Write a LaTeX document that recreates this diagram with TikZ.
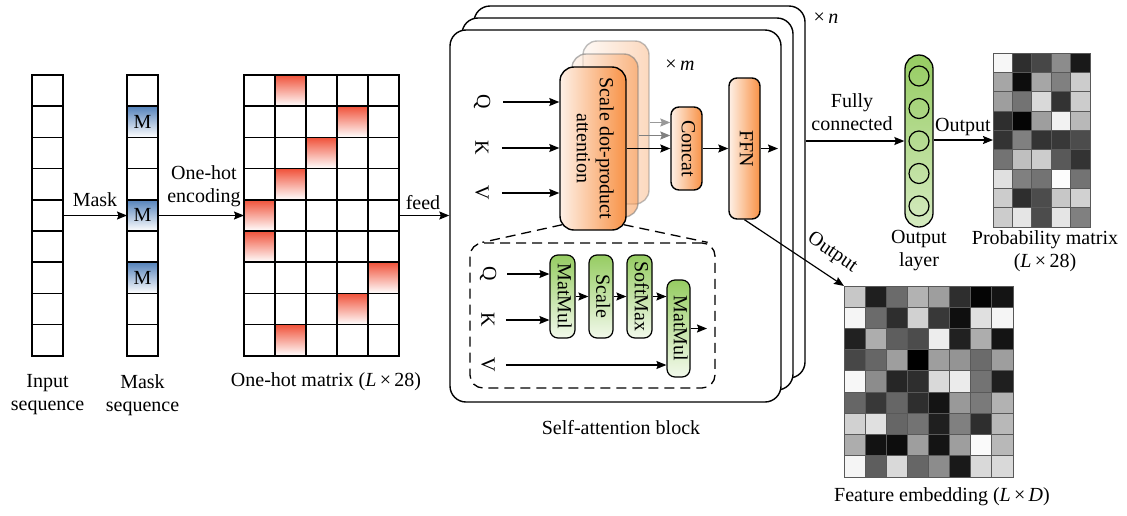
\documentclass[tikz,border=0pt]{standalone}
\usepackage{fontspec}
\setmainfont{Liberation Serif}
\usepackage{graphicx}
\usetikzlibrary{arrows.meta,positioning,calc}

\definecolor{maskblue}{RGB}{84,130,186}
\definecolor{hotred}{RGB}{240,82,58}
\definecolor{attnorange}{RGB}{248,146,70}
\definecolor{attnlight}{RGB}{254,240,230}
\definecolor{mmgreen}{RGB}{150,204,98}
\definecolor{mmlight}{RGB}{242,249,235}

\newcommand{\vtext}[1]{\rotatebox{-90}{\begin{tabular}{@{}c@{}}#1\end{tabular}}}

\tikzset{
  lbl/.style={font=\fontsize{20}{23}\selectfont, align=center, inner sep=1pt},
  arr/.style={line width=1.2, -{Stealth[length=10pt,width=8pt,inset=1.5pt]}},
  cellline/.style={line width=1.5},
  graycell/.style={draw=black!65, line width=0.8},
  holder/.style={inner sep=0pt, outer sep=0pt},
  blockbox/.style={draw, line width=1.4, rounded corners=16, fill=white, inner sep=0pt},
  attnbox/.style={draw, line width=1.4, rounded corners=14, left color=attnlight, right color=attnorange, lbl, inner sep=0pt},
  opbox/.style={draw, line width=1.2, rounded corners=8, top color=mmgreen, bottom color=mmlight, lbl, inner sep=0pt},
  dashbox/.style={draw, line width=1.3, dash pattern=on 10pt off 6pt, rounded corners=13, inner sep=0pt},
  neuron/.style={circle, draw, line width=1.2, minimum size=20, inner sep=0pt},
}

\begin{document}
\begin{tikzpicture}[x=1pt,y=-1pt]
\useasboundingbox (0,0) rectangle (1127,515);

% Input and mask sequences
\node[holder, minimum width=31, minimum height=281] (inseq) at (47.5,215.5) {};
\node[holder, minimum width=31, minimum height=281] (maskseq) at (142.5,215.5) {};
\foreach \i in {1,4,6}
  \shade[top color=maskblue, bottom color=white] (127,{75+\i*31.2}) rectangle +(31,31.2);
\foreach \i in {0,...,8} {
  \draw[cellline] (32,{75+\i*31.2}) rectangle +(31,31.2);
  \draw[cellline] (127,{75+\i*31.2}) rectangle +(31,31.2);
}
\foreach \i in {1,4,6}
  \node[lbl] (m\i) at (142.5,{75+(\i+0.5)*31.2}) {M};
\node[lbl] (inlbl) at (47.5,395) {Input\\sequence};
\node[lbl] (masklbl) at (142.5,395) {Mask\\sequence};

% One-hot matrix
\node[holder, minimum width=155, minimum height=281] (onehot) at (321.5,215.5) {};
\foreach \r/\c in {0/1,1/3,2/2,3/1,4/0,5/0,6/4,7/3,8/1}
  \shade[top color=hotred, bottom color=white] ({244+\c*31},{75+\r*31.2}) rectangle +(31,31.2);
\foreach \r in {0,...,8}
  \foreach \c in {0,...,4}
    \draw[cellline] ({244+\c*31},{75+\r*31.2}) rectangle +(31,31.2);
\node[lbl] (ohlbl) at (326,382) {One-hot matrix (\textit{L}\,×\,28)};

\draw[arr] (inseq.east) -- (maskseq.west);
\node[lbl] (masktxt) at (95,200) {Mask};
\draw[arr] (maskseq.east) -- (onehot.west);
\node[lbl] (enctxt) at (204,186) {One-hot\\encoding};

% Self-attention block (stacked n times)
\node[blockbox, minimum width=331, minimum height=372] (blk3) at (639.5,192) {};
\node[blockbox, minimum width=331, minimum height=372] (blk2) at (627.5,204) {};
\node[blockbox, minimum width=331, minimum height=372] (blk1) at (615.5,216) {};
\node[lbl] (ntimes) at (826,18) {×\,\textit{n}};
\node[lbl] (blklbl) at (621,428) {Self-attention block};

\draw[arr] (onehot.east) -- (onehot.east -| blk1.west);
\node[lbl] (feedtxt) at (423,203) {feed};

% multi-head attention
\node[attnbox, minimum width=66, minimum height=163, draw=gray, fill opacity=0.35, draw opacity=0.5] (att3) at (616,122.5) {};
\node[attnbox, minimum width=66, minimum height=163, draw=gray, fill opacity=0.55, draw opacity=0.6] (att2) at (605,135.5) {};
\node[attnbox, minimum width=66, minimum height=163] (att1) at (593,148.5) {\vtext{Scale dot-product\\attention}};
\node[lbl] (mtimes) at (680,65) {×\,\textit{m}};

\node[lbl, rotate=-90] (q1) at (482,102) {Q};
\node[lbl, rotate=-90] (k1) at (482,148) {K};
\node[lbl, rotate=-90] (v1) at (482,193) {V};
\foreach \t in {q1,k1,v1}
  \draw[arr] ([xshift=12pt]\t.north) -- (att1.west |- \t.north);

\node[attnbox, rounded corners=8, minimum width=31, minimum height=83] (concat) at (686.5,148.5) {\vtext{Concat}};
\node[attnbox, rounded corners=8, minimum width=31, minimum height=141] (ffn) at (744.5,148.5) {\vtext{FFN}};
\coordinate (ffnout) at (778,148.5);

\draw[arr, gray!80, line width=1.1] (att3.east) -- (concat.west |- att3.east);
\draw[arr, gray, line width=1.1] (att2.east) -- (concat.west |- att2.east);
\draw[arr] (att1.east) -- (concat.west);
\draw[arr] (concat.east) -- (ffn.west);
\draw[arr] (ffn.east) -- (ffnout);

% scaled dot-product detail
\node[dashbox, minimum width=245, minimum height=145] (inner) at (592.5,315.5) {};
\draw[line width=1.3, dash pattern=on 10pt off 6pt] ([shift={(3,-6)}]att1.south west) -- ([xshift=13pt]inner.north west);
\draw[line width=1.3, dash pattern=on 10pt off 6pt] ([shift={(-3,-6)}]att1.south east) -- ([xshift=-8pt]inner.north east);

\node[lbl, rotate=-90] (q2) at (488,274) {Q};
\node[lbl, rotate=-90] (k2) at (488,320) {K};
\node[lbl, rotate=-90] (v2) at (488,365) {V};

\node[opbox, minimum width=25, minimum height=83] (mm1) at (562.5,296.5) {\vtext{MatMul}};
\node[opbox, minimum width=24, minimum height=83] (scale) at (601,296.5) {\vtext{Scale}};
\node[opbox, minimum width=25, minimum height=83] (smax) at (639.5,296.5) {\vtext{SoftMax}};
\node[opbox, minimum width=23, minimum height=97] (mm2) at (678.5,328.5) {\vtext{MatMul}};
\coordinate (mmout) at (707,328.5);

\draw[arr] ([xshift=10pt]q2.north) -- (mm1.west |- q2.north);
\draw[arr] ([xshift=10pt]k2.north) -- (mm1.west |- k2.north);
\draw[arr] ([xshift=10pt]v2.north) -- (mm2.west |- v2.north);
\draw[arr] (mm1) -- (scale);
\draw[arr] (scale) -- (smax);
\draw[arr] (smax.east) -- (mm2.west |- smax.east);
\draw[arr] (mm2.east) -- (mmout);

% Output layer
\node[draw, line width=1.3, rounded corners=14, minimum width=28, minimum height=172, inner sep=0pt,
      top color=mmgreen, bottom color=mmgreen!40] (outl) at (919,141) {};
\foreach \yy [count=\i] in {76,108.5,141,173.5,206}
  \node[neuron] (n\i) at (919,\yy) {};
\node[lbl] (outllbl) at (919,251) {Output\\layer};
\draw[arr] (blk3.east |- outl.west) -- (outl.west);
\node[lbl] (fctxt) at (852,112) {Fully\\connected};

% Probability matrix
\node[holder, minimum width=97, minimum height=174] (prob) at (1041.5,140) {};
\foreach \rw [count=\r from 0] in {{97,18,28,55,10},{65,5,65,50,80},{62,45,85,20,80},{18,2,62,95,72},{20,50,20,22,30},{45,75,80,35,20},{88,50,45,99,45},{80,18,30,78,82},{80,90,30,90,50}}
  \foreach \v [count=\c from 0] in \rw
    \filldraw[graycell, fill=white!\v!black] ({993+\c*19.4},{53+\r*19.33}) rectangle +(19.4,19.33);
\draw[arr] (outl.east |- prob.west) -- (prob.west);
\node[lbl] (outtxt) at (963,127) {Output};
\node[lbl] (problbl) at (1045,251) {Probability matrix\\(\textit{L}\,×\,28)};

% Feature embedding
\node[holder, minimum width=169, minimum height=191] (feat) at (928.5,381.5) {};
\foreach \rw [count=\r from 0] in {{78,12,42,70,62,18,2,8},{96,42,18,82,22,6,88,96},{13,68,37,30,93,13,68,8},{28,40,62,0,62,58,42,62},{97,55,15,18,85,92,45,12},{40,22,40,18,8,60,48,70},{82,88,40,45,12,50,18,72},{68,7,5,62,8,62,98,72},{96,37,85,40,55,10,85,85}}
  \foreach \v [count=\c from 0] in \rw
    \filldraw[graycell, fill=white!\v!black] ({844+\c*21.125},{286+\r*21.22}) rectangle +(21.125,21.22);
\draw[arr] (ffn.south) -- (feat.north west);
\node[lbl, rotate=-34.5] (outtxt2) at (832,253) {Output};
\node[lbl] (featlbl) at (942,497) {Feature embedding (\textit{L}\,×\,\textit{D})};

\end{tikzpicture}
\end{document}
